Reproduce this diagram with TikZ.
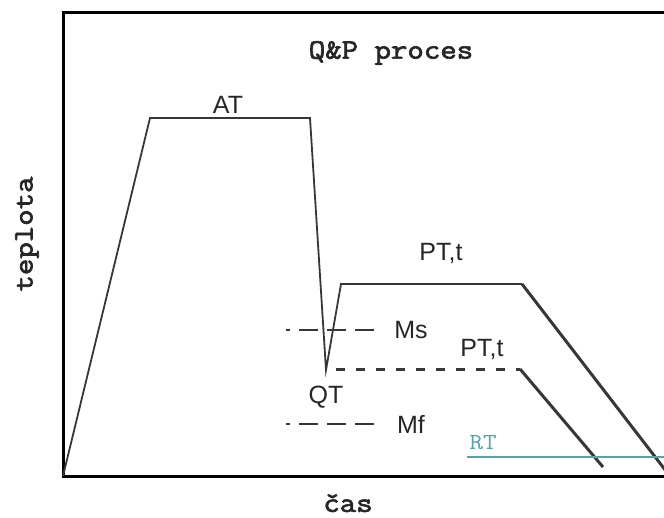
\documentclass[tikz,border=0pt]{standalone}
\usepackage{fontspec}
\setmainfont{Liberation Sans}
\newfontfamily\courbold[FakeBold=2.5,FakeStretch=1.14]{Latin Modern Mono}
\newfontfamily\courlight[FakeStretch=1.14]{Latin Modern Mono}
\definecolor{linegray}{RGB}{55,55,55}
\definecolor{rtteal}{RGB}{80,165,175}
\tikzset{
  frameline/.style={line width=3pt, black},
  curveline/.style={line width=1.8pt, linegray, line join=miter},
  coolline/.style={line width=3pt, linegray},
  msline/.style={line width=1.8pt, linegray, dash pattern={on 4pt off 9pt on 19pt off 9pt on 19pt off 9pt on 19pt off 20pt}},
  qtline/.style={line width=3pt, linegray, dash pattern={on 9pt off 11pt}, dash phase=-10pt},
  rtline/.style={line width=1.2pt, rtteal},
  lab/.style={font=\fontsize{25}{29}\selectfont, text=black!85, inner sep=0pt},
  monolab/.style={font=\courbold\fontsize{28}{32}\selectfont, text=black!85, inner sep=0pt},
  rtlab/.style={font=\courlight\fontsize{23}{26}\selectfont, text=rtteal, inner sep=0pt}
}
\begin{document}
\begin{tikzpicture}[x=1pt,y=-1pt]
\useasboundingbox (0,0) rectangle (664,517);
% frame
\coordinate (ftr) at (664,12);
\coordinate (ftl) at (63,12);
\coordinate (o) at (63,476);
\coordinate (fbr) at (664,476);
\draw[frameline] (ftr) -- (ftl) -- (o) -- (fbr);
% main curve
\coordinate (a1) at (150,118);
\coordinate (a2) at (310,118);
\coordinate (q) at (326,370);
\coordinate (p1) at (341,284);
\coordinate (p2) at (522,284);
\coordinate (e1) at (666,471);
\draw[curveline] (o) -- (a1) -- (a2) -- (q) -- (p1) -- (p2);
\draw[coolline] (p2) -- (e1);
% second path
\coordinate (q2) at (326,369);
\coordinate (d1) at (520,369);
\coordinate (e2) at (603,467);
\draw[qtline] (q2) -- (d1);
\draw[coolline] (d1) -- (e2);
% Ms, Mf
\coordinate (ms1) at (286,330);
\coordinate (ms2) at (375,330);
\coordinate (mf1) at (286,424);
\coordinate (mf2) at (375,424);
\draw[msline] (ms1) -- (ms2);
\draw[msline] (mf1) -- (mf2);
% RT
\coordinate (rt1) at (467,457);
\coordinate (rt2) at (664,457);
\draw[rtline] (rt1) -- (rt2);
% labels
\node[lab] (at) at (228,105) {AT};
\node[lab] (pt1) at (441,253) {PT,t};
\node[lab] (msl) at (411,330) {Ms};
\node[lab] (pt2) at (482,349) {PT,t};
\node[lab] (qtl) at (326,397) {QT};
\node[lab] (mfl) at (411,424) {Mf};
\node[rtlab] (rtl) at (483,443) {RT};
\node[monolab] (title) at (391,53) {Q\&P proces};
\node[monolab, rotate=90] (ylab) at (27,234) {teplota};
\node[monolab] (xlab) at (348,503) {čas};
\end{tikzpicture}
\end{document}
